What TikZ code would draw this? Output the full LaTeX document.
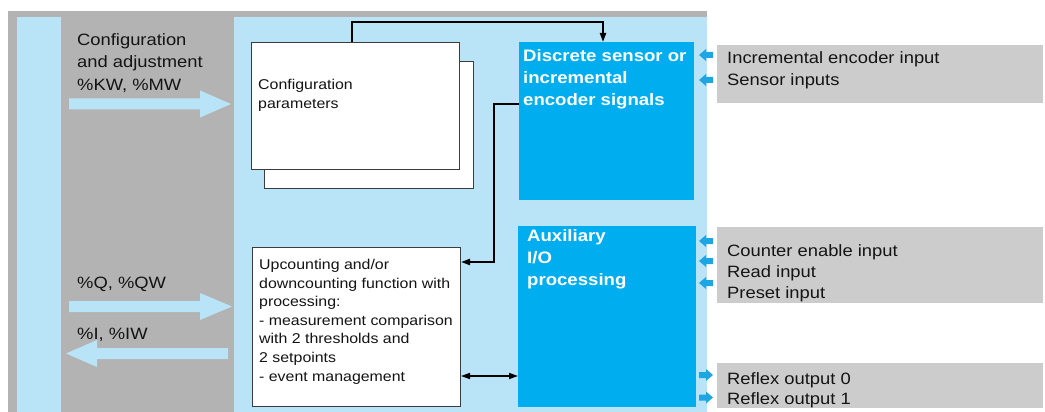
\documentclass[tikz,border=0pt]{standalone}
\usepackage{fontspec}
\setmainfont[FakeStretch=1.12]{Liberation Sans}
\usetikzlibrary{arrows.meta}
\definecolor{outergray}{RGB}{179,179,179}
\definecolor{lightblue}{RGB}{185,228,248}
\definecolor{cyanbox}{RGB}{0,173,238}
\definecolor{labelgray}{RGB}{204,204,204}
\definecolor{arrowblue}{RGB}{30,166,226}
\definecolor{boxline}{RGB}{60,60,60}
\definecolor{txt}{RGB}{20,20,20}
\begin{document}
\begin{tikzpicture}[x=1pt,y=-1pt,
  whitebox/.style={draw=boxline, line width=1pt, fill=white, inner sep=0pt, anchor=north west},
  cyanbx/.style={fill=cyanbox, inner sep=0pt, anchor=north west},
  graybx/.style={fill=labelgray, inner sep=0pt, anchor=north west},
  lbl/.style={inner sep=0pt, anchor=north west, align=left, text=txt},
  bigtxt/.style={lbl, font=\fontsize{16.4}{22}\selectfont},
  smalltxt/.style={lbl, font=\fontsize{14.2}{18.6}\selectfont},
  whitetxt/.style={inner sep=0pt, anchor=north west, align=left, text=white, font=\fontsize{16.6}{22}\selectfont\bfseries},
  conn/.style={draw=black, line width=2pt},
  tip/.style={-{Triangle[length=9pt,width=6pt]}},
  larr/.pic={\fill[arrowblue] (0,0) -- (7,-6) -- (7,-3) -- (14,-3) -- (14,3) -- (7,3) -- (7,6) -- cycle;},
  rarr/.pic={\fill[arrowblue] (0,0) -- (-7,-6) -- (-7,-3) -- (-14,-3) -- (-14,3) -- (-7,3) -- (-7,6) -- cycle;}
]
\useasboundingbox (0,0) rectangle (1045,412);
\fill[white] (0,0) rectangle (1045,412);
% background panels
\fill[outergray] (8,11) rectangle (707,412);
\fill[lightblue] (17,17) rectangle (61,412);
\fill[lightblue] (234,17) rectangle (707,412);

% big light arrows
\fill[lightblue] (69,98.5) -- (200,98.5) -- (200,90.5) -- (231,104) -- (200,117.5) -- (200,109.5) -- (69,109.5) -- cycle;
\fill[lightblue] (69,301) -- (200,301) -- (200,293) -- (232,306.5) -- (200,320) -- (200,312) -- (69,312) -- cycle;
\fill[lightblue] (228,348) -- (97,348) -- (97,340) -- (66,353.5) -- (97,367) -- (97,359) -- (228,359) -- cycle;

% left labels
\node[bigtxt, font=\fontsize{16.4}{22.5}\selectfont] (cfgadj) at (77,33) {Configuration\\and adjustment\\\%KW, \%MW};
\node[bigtxt] (qlbl) at (77,277) {\%Q, \%QW};
\node[bigtxt] (ilbl) at (77,328) {\%I, \%IW};

% boxes
\node[whitebox, minimum width=209pt, minimum height=127pt] (cfgback) at (264,61) {};
\node[whitebox, minimum width=208pt, minimum height=127pt] (cfg) at (251,42) {};
\node[smalltxt, font=\fontsize{14.2}{19}\selectfont] (cfgtxt) at (258,79) {Configuration\\parameters};

\node[whitebox, minimum width=208pt, minimum height=159pt] (up) at (252,247) {};
\node[smalltxt] (uptxt) at (259,259) {Upcounting and/or\\downcounting function with\\processing:\\- measurement comparison\\with 2 thresholds and\\2 setpoints\\- event management};

\node[cyanbx, minimum width=175pt, minimum height=158pt] (disc) at (519,42) {};
\node[whitetxt] (disctxt) at (523,49) {Discrete sensor or\\incremental\\encoder signals};

\node[cyanbx, minimum width=178pt, minimum height=181pt] (aux) at (518,226) {};
\node[whitetxt] (auxtxt) at (527,229) {Auxiliary\\I/O\\processing};

% right labels
\node[graybx, minimum width=326pt, minimum height=58pt] (lab1) at (717,45) {};
\node[bigtxt] (lab1txt) at (727,51) {Incremental encoder input\\Sensor inputs};
\node[graybx, minimum width=326pt, minimum height=76pt] (lab2) at (717,227) {};
\node[bigtxt, font=\fontsize{16.4}{21}\selectfont] (lab2txt) at (727,244) {Counter enable input\\Read input\\Preset input};
\node[graybx, minimum width=326pt, minimum height=45pt] (lab3) at (717,363) {};
\node[bigtxt, font=\fontsize{16.4}{20}\selectfont] (lab3txt) at (727,372) {Reflex output 0\\Reflex output 1};

% small blue arrows
\pic at (699,55) {larr};
\pic at (699,80) {larr};
\pic at (699,241) {larr};
\pic at (699,261) {larr};
\pic at (699,283) {larr};
\pic at (713,375) {rarr};
\pic at (713,397.5) {rarr};

% connectors
\coordinate (c1) at (352,22);
\coordinate (c2) at (603,22);
\draw[conn, tip] (cfg.north -| c1) -- (c1) -- (c2) -- (c2 |- disc.north);
\coordinate (c3) at (494,104);
\coordinate (c4) at (494,262);
\draw[conn, tip] (c3 -| disc.west) -- (c3) -- (c4) -- (c4 -| up.east);
\coordinate (c5) at (480,376);
\draw[draw=black, line width=1.6pt, {Triangle[length=9pt,width=6pt]}-{Triangle[length=9pt,width=6pt]}] (c5 -| up.east) -- (c5 -| aux.west);
\end{tikzpicture}
\end{document}
